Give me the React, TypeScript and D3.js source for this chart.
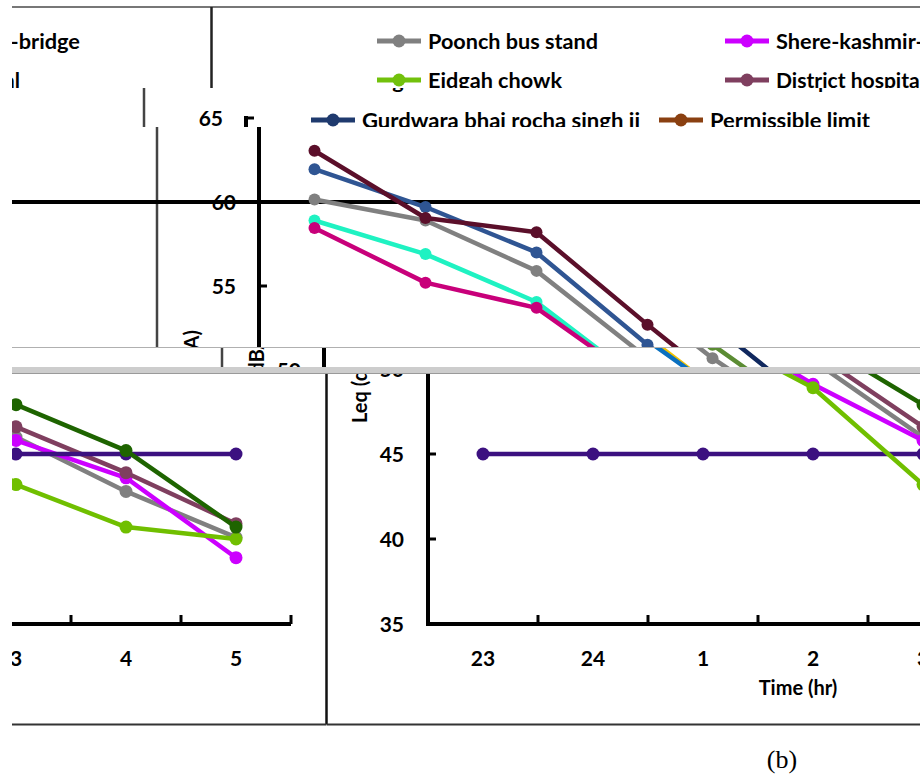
import React from "react";
import * as d3 from "d3";

// ---------- Night-time panel (b) ----------
const nightHours = ["23", "24", "1", "2", "3", "4", "5"];
const nightPoonchBusStand = [58.0, 56.8, 54.5, 50.5, 46.0, 42.8, 40.1];
const nightShereKashmirBridge = [57.6, 56.2, 53.0, 49.1, 45.8, 43.6, 38.9];
const nightEidgahChowk = [57.2, 55.6, 52.3, 48.9, 43.2, 40.7, 40.0];
const nightDistrictHospital = [58.8, 57.6, 55.0, 51.0, 46.6, 43.9, 40.9];
const nightSiteSix = [59.6, 58.4, 55.8, 51.8, 47.9, 45.2, 40.7];
const nightPermissible = [45, 45, 45, 45, 45, 45, 45];

// ---------- Day-time panel fragment ----------
const dayHours = ["6", "7", "8", "9", "10"];
const dayMaroon = [63.05, 59.05, 58.2, 52.7, 47.4];
const daySteel = [61.95, 59.7, 57.0, 51.5, 46.8];
const dayGray = [60.15, 58.9, 55.9, 50.7, 46.3];
const dayAqua = [58.9, 56.9, 54.05, 49.0, 46.0];
const dayPink = [58.45, 55.2, 53.7, 49.0, 45.5];
const dayLimit = 60;

const yTicks = [35, 40, 45, 50, 55, 60, 65];
const yLabel = "Leq (dBA)";
const xTitle = "Time (hr)";

// ---------- Legend ----------
const legendNames = [
  "Poonch bus stand",
  "Shere-kashmir-bridge",
  "Eidgah chowk",
  "District hospital",
  "Gurdwara bhai rocha singh ji",
  "Permissible limit",
];
const legendColors = ["#808080", "#cc00ff", "#72c10c", "#7f3f5f", "#1f3a6e", "#8a4011"];
const legendTextWidths = [170, 209, 134, 149, 278, 160];

const FONT = "Lato, 'Open Sans', sans-serif";

type S = { values: number[]; color: string };
type FigCfg = {
  cats: string[];
  axisX: number;
  step: number;
  yTop: number;
  yBottom: number;
  border: number;
  frameBottom: number;
  labelX: number;
  labelY: number;
  labelAnchor: "start" | "end";
  tickLabelX: number;
  catLabelY: number;
  lineW: number;
  r: number;
  limit?: number;
  title?: { x: number; y: number };
  borderColor: string;
};

function Figure({ cfg, series }: { cfg: FigCfg; series: S[] }) {
  const x = d3
    .scaleBand<string>()
    .domain(cfg.cats)
    .range([cfg.axisX, cfg.axisX + cfg.step * cfg.cats.length]);
  const y = d3.scaleLinear().domain([35, 65]).range([cfg.yBottom, cfg.yTop]);
  const cx = (i: number) => (x(cfg.cats[i]) as number) + x.bandwidth() / 2;
  const line = d3
    .line<number>()
    .x((_, i) => cx(i))
    .y((d) => y(d));
  const xEnd = x.range()[1];
  const bounds = d3.range(1, cfg.cats.length + 1).map((k) => cfg.axisX + k * x.step());
  return (
    <g>
      <line x1={cfg.border} x2={cfg.border} y1={-300} y2={cfg.frameBottom} stroke={cfg.borderColor} strokeWidth={2.5} />
      <line x1={cfg.border} x2={cfg.border + 1600} y1={cfg.frameBottom} y2={cfg.frameBottom} stroke="#333" strokeWidth={2} />
      {cfg.limit !== undefined && (
        <line x1={-1200} x2={2200} y1={y(cfg.limit)} y2={y(cfg.limit)} stroke="#000" strokeWidth={4} />
      )}
      {/* axes */}
      <line x1={cfg.axisX} x2={cfg.axisX} y1={cfg.yTop - 2} y2={cfg.yBottom} stroke="#000" strokeWidth={4} />
      <line x1={cfg.axisX - 2} x2={xEnd} y1={cfg.yBottom} y2={cfg.yBottom} stroke="#000" strokeWidth={4} />
      {yTicks.map((t) => (
        <g key={"yt" + t}>
          <line x1={cfg.axisX} x2={cfg.axisX + 8} y1={y(t)} y2={y(t)} stroke="#000" strokeWidth={3} />
          <text x={cfg.tickLabelX} y={y(t)} dy="0.36em" textAnchor="end" fontFamily={FONT} fontWeight={700} fontSize={21} fill="#000">
            {t}
          </text>
        </g>
      ))}
      {bounds.map((b, k) => (
        <line key={"xt" + k} x1={b} x2={b} y1={cfg.yBottom} y2={cfg.yBottom - 9} stroke="#000" strokeWidth={3} />
      ))}
      {cfg.cats.map((c, i) => (
        <text key={"xl" + c} x={cx(i)} y={cfg.catLabelY} textAnchor="middle" fontFamily={FONT} fontWeight={700} fontSize={21} fill="#000">
          {c}
        </text>
      ))}
      {cfg.title && (
        <text x={cfg.title.x} y={cfg.title.y} textAnchor="middle" fontFamily={FONT} fontWeight={700} fontSize={20} fill="#000">
          {xTitle}
        </text>
      )}
      <text
        transform={`translate(${cfg.labelX},${cfg.labelY}) rotate(-90)`}
        textAnchor={cfg.labelAnchor}
        fontFamily={FONT}
        fontWeight={700}
        fontSize={20}
        fill="#000"
      >
        {yLabel}
      </text>
      {series.map((s, si) => (
        <g key={"s" + si}>
          <path d={line(s.values) as string} fill="none" stroke={s.color} strokeWidth={cfg.lineW} strokeLinejoin="round" />
          {s.values.map((v, i) => (
            <circle key={i} cx={cx(i)} cy={y(v)} r={cfg.r} fill={s.color} />
          ))}
        </g>
      ))}
    </g>
  );
}

function Legend() {
  const colX = [377, 725];
  const rowY = [41, 80, 120];
  return (
    <g>
      {legendNames.map((n, i) => {
        const x0 = colX[i % 2];
        const y0 = rowY[Math.floor(i / 2)];
        return (
          <g key={n}>
            <line x1={x0} x2={x0 + 44} y1={y0} y2={y0} stroke={legendColors[i]} strokeWidth={5} />
            <circle cx={x0 + 22} cy={y0} r={6.5} fill={legendColors[i]} />
            <text
              x={x0 + 51}
              y={y0 + 7.5}
              fontFamily={FONT}
              fontWeight={700}
              fontSize={21}
              fill="#000"
              textLength={legendTextWidths[i]}
              lengthAdjust="spacingAndGlyphs"
            >
              {n}
            </text>
          </g>
        );
      })}
    </g>
  );
}

const nightCfg: FigCfg = {
  cats: nightHours,
  axisX: 428,
  step: 110,
  yTop: 114,
  yBottom: 624,
  border: 326.5,
  frameBottom: 724.5,
  labelX: 367,
  labelY: 423,
  labelAnchor: "start",
  tickLabelX: 404,
  catLabelY: 666,
  lineW: 4.5,
  r: 6.5,
  title: { x: 798, y: 695 },
  borderColor: "#111",
};

const dayCfg: FigCfg = {
  cats: dayHours,
  axisX: 259,
  step: 111,
  yTop: 118,
  yBottom: 622,
  border: 157,
  frameBottom: 721,
  labelX: 199,
  labelY: 330,
  labelAnchor: "end",
  tickLabelX: 236,
  catLabelY: 664,
  lineW: 4.5,
  r: 6,
  limit: dayLimit,
  borderColor: "#444",
};

const dayColors = ["#808080", "#1ff2c2", "#c8007a", "#2f5593", "#5b0f2a"];
const stripColors = ["#808080", "#f2c200", "#0a70c0", "#5b8c33", "#10285e"];
const dayValues = [dayGray, dayAqua, dayPink, daySteel, dayMaroon];

const nightSeries: S[] = [
  { values: nightPoonchBusStand, color: "#808080" },
  { values: nightShereKashmirBridge, color: "#cc00ff" },
  { values: nightDistrictHospital, color: "#7f3f5f" },
  { values: nightPermissible, color: "#3c1180" },
  { values: nightEidgahChowk, color: "#70bf00" },
  { values: nightSiteSix, color: "#1e6400" },
];

export default function App() {
  const daySeries = dayValues.map((v, i) => ({ values: v, color: dayColors[i] }));
  const stripSeries = dayValues.map((v, i) => ({ values: v, color: stripColors[i] }));
  return (
    <div style={{ position: "absolute", left: 0, top: 0 }}>
      <svg width={920} height={778} style={{ display: "block", background: "#fff" }}>
        <defs>
          <clipPath id="cA"><rect x={0} y={0} width={920} height={88} /></clipPath>
          <clipPath id="cAL"><rect x={12} y={0} width={198} height={88} /></clipPath>
          <clipPath id="cB1"><rect x={12} y={88} width={908} height={39} /></clipPath>
          <clipPath id="cB2"><rect x={12} y={127} width={908} height={220} /></clipPath>
          <clipPath id="cS"><rect x={12} y={347} width={908} height={20} /></clipPath>
          <clipPath id="cCR"><rect x={325} y={373} width={595} height={360} /></clipPath>
          <clipPath id="cCL"><rect x={12} y={373} width={314} height={360} /></clipPath>
        </defs>
        <rect x={0} y={0} width={920} height={778} fill="#fff" />

        {/* top legend fragment */}
        <g clipPath="url(#cA)">
          <Legend />
        </g>
        <g clipPath="url(#cAL)">
          <g transform="translate(-905,0)">
            <Legend />
          </g>
        </g>
        <line x1={12} x2={920} y1={7} y2={7} stroke="#777" strokeWidth={2} />
        <line x1={211.5} x2={211.5} y1={7} y2={88} stroke="#222" strokeWidth={2.5} />

        {/* legend third row + axis top */}
        <g clipPath="url(#cB1)">
          <g transform="translate(-66,0)">
            <Legend />
          </g>
          <g transform="translate(-13,0)">
            <Figure cfg={dayCfg} series={daySeries} />
          </g>
        </g>

        {/* day panel */}
        <g clipPath="url(#cB2)">
          <Figure cfg={dayCfg} series={daySeries} />
        </g>

        {/* thin strip */}
        <g clipPath="url(#cS)">
          <g transform="translate(65,0)">
            <Figure cfg={dayCfg} series={stripSeries} />
          </g>
        </g>
        <line x1={12} x2={920} y1={347.5} y2={347.5} stroke="#b0b0b0" strokeWidth={1} />

        {/* night panel */}
        <g clipPath="url(#cCR)">
          <Figure cfg={nightCfg} series={nightSeries} />
        </g>
        <g clipPath="url(#cCL)">
          <g transform="translate(-907,0)">
            <Figure cfg={nightCfg} series={nightSeries} />
          </g>
        </g>
        <rect x={12} y={367} width={908} height={6} fill="#cdcdcd" />
        <line x1={12} x2={920} y1={373.5} y2={373.5} stroke="#9a9a9a" strokeWidth={1} />

        <text x={782} y={768} textAnchor="middle" fontFamily="'Liberation Serif', 'DejaVu Serif', serif" fontSize={26} fill="#000">
          (b)
        </text>
      </svg>
    </div>
  );
}
